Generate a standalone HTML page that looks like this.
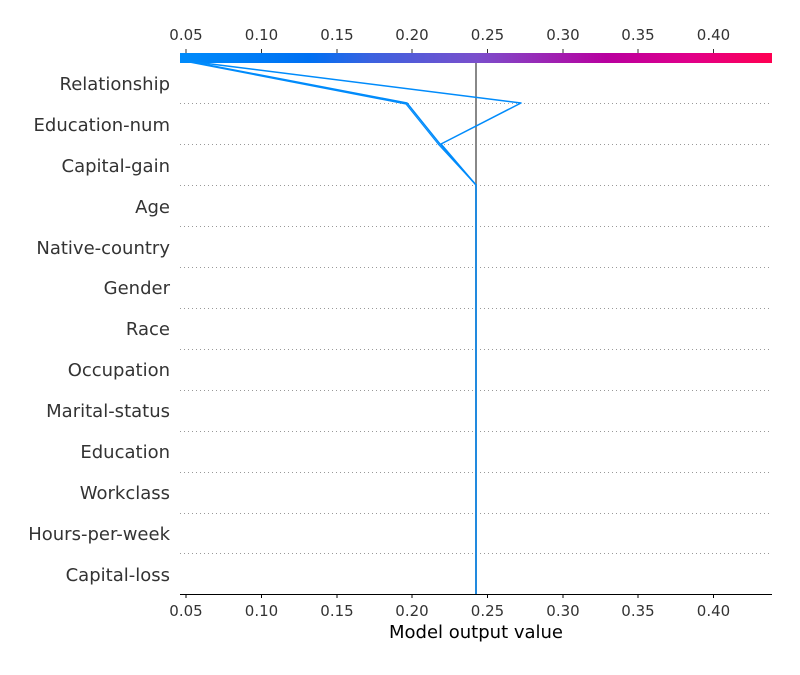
<!DOCTYPE html>
<html><head><meta charset="utf-8"><style>
body{margin:0;background:#fff;width:800px;height:670px;overflow:hidden}
svg text{font-family:"DejaVu Sans","Liberation Sans",sans-serif}
</style></head><body>
<svg width="800" height="670" viewBox="0 0 800 670" xmlns="http://www.w3.org/2000/svg">
<defs><linearGradient id="g" x1="0" x2="1" y1="0" y2="0">
<stop offset="0" stop-color="#008bfb"/>
<stop offset="0.22" stop-color="#0070f2"/>
<stop offset="0.32" stop-color="#3a62e0"/>
<stop offset="0.5" stop-color="#7a4fcc"/>
<stop offset="0.72" stop-color="#b8009f"/>
<stop offset="0.86" stop-color="#e0008a"/>
<stop offset="1" stop-color="#ff0052"/>
</linearGradient></defs>
<rect x="180" y="53" width="592" height="10" fill="url(#g)"/>
<g stroke="#999" stroke-width="1" stroke-dasharray="1,3">
<line x1="180" x2="772" y1="103.5" y2="103.5"/><line x1="180" x2="772" y1="144.5" y2="144.5"/>
<line x1="180" x2="772" y1="185.5" y2="185.5"/><line x1="180" x2="772" y1="226.5" y2="226.5"/>
<line x1="180" x2="772" y1="267.5" y2="267.5"/><line x1="180" x2="772" y1="308.5" y2="308.5"/>
<line x1="180" x2="772" y1="349.5" y2="349.5"/><line x1="180" x2="772" y1="390.5" y2="390.5"/>
<line x1="180" x2="772" y1="431.5" y2="431.5"/><line x1="180" x2="772" y1="472.5" y2="472.5"/>
<line x1="180" x2="772" y1="513.5" y2="513.5"/><line x1="180" x2="772" y1="553.5" y2="553.5"/>
</g>
<line x1="476" x2="476" y1="63" y2="594" stroke="#888" stroke-width="2"/>
<g fill="none" stroke="#008bfb" stroke-width="1.5" stroke-linejoin="round">
<polyline points="187,61 521,103 441,144 476,185 476,594"/>
<polyline points="187,61 407,103 440,144 476,185"/>
<polyline points="189,62 406,104 439,145 476,185" stroke-width="1.2"/>
</g>
<line x1="180" x2="772" y1="594.5" y2="594.5" stroke="#000" stroke-width="1"/>
<g stroke="#000" stroke-width="1">
<line x1="186" x2="186" y1="594" y2="598"/><line x1="261.5" x2="261.5" y1="594" y2="598"/>
<line x1="337" x2="337" y1="594" y2="598"/><line x1="412" x2="412" y1="594" y2="598"/>
<line x1="487.5" x2="487.5" y1="594" y2="598"/><line x1="563" x2="563" y1="594" y2="598"/>
<line x1="638" x2="638" y1="594" y2="598"/><line x1="713.5" x2="713.5" y1="594" y2="598"/>
</g>
<g stroke="#333" stroke-width="1">
<line x1="186" x2="186" y1="49" y2="53"/><line x1="261.5" x2="261.5" y1="49" y2="53"/>
<line x1="337" x2="337" y1="49" y2="53"/><line x1="412" x2="412" y1="49" y2="53"/>
<line x1="487.5" x2="487.5" y1="49" y2="53"/><line x1="563" x2="563" y1="49" y2="53"/>
<line x1="638" x2="638" y1="49" y2="53"/><line x1="713.5" x2="713.5" y1="49" y2="53"/>
</g>
<g font-size="15" fill="#333" text-anchor="middle">
<text x="186" y="40">0.05</text><text x="261.5" y="40">0.10</text><text x="337" y="40">0.15</text>
<text x="412" y="40">0.20</text><text x="487.5" y="40">0.25</text><text x="563" y="40">0.30</text>
<text x="638" y="40">0.35</text><text x="713.5" y="40">0.40</text>
<text x="186" y="616">0.05</text><text x="261.5" y="616">0.10</text><text x="337" y="616">0.15</text>
<text x="412" y="616">0.20</text><text x="487.5" y="616">0.25</text><text x="563" y="616">0.30</text>
<text x="638" y="616">0.35</text><text x="713.5" y="616">0.40</text>
</g>
<text x="476" y="638" font-size="18" text-anchor="middle" fill="#000">Model output value</text>
<g font-size="18" fill="#333" text-anchor="end">
<text x="170" y="90">Relationship</text><text x="170" y="131">Education-num</text>
<text x="170" y="172">Capital-gain</text><text x="170" y="213">Age</text>
<text x="170" y="254">Native-country</text><text x="170" y="294">Gender</text>
<text x="170" y="335">Race</text><text x="170" y="376">Occupation</text>
<text x="170" y="417">Marital-status</text><text x="170" y="458">Education</text>
<text x="170" y="499">Workclass</text><text x="170" y="540">Hours-per-week</text>
<text x="170" y="581">Capital-loss</text>
</g>
</svg>
</body></html>
